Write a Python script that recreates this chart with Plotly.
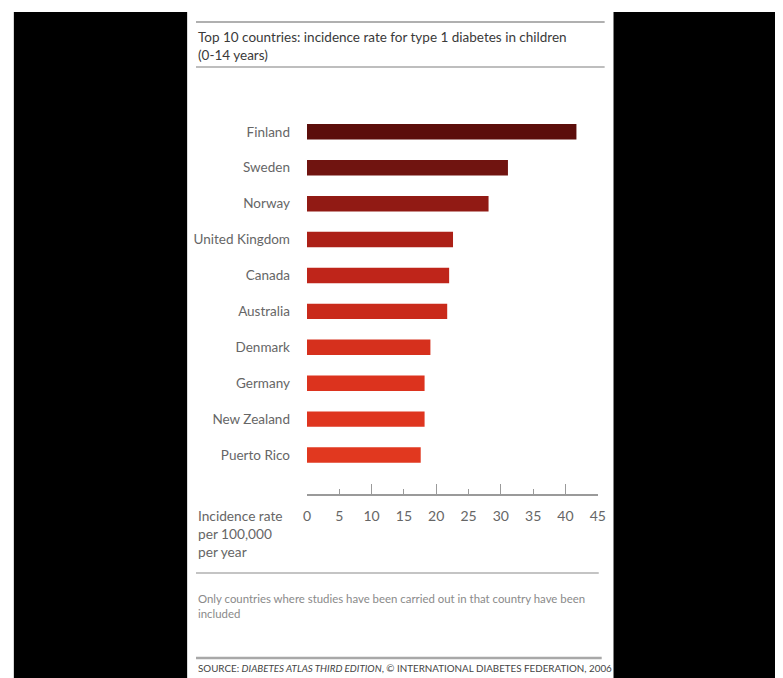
import plotly.graph_objects as go

countries = ["Finland", "Sweden", "Norway", "United Kingdom", "Canada",
             "Australia", "Denmark", "Germany", "New Zealand", "Puerto Rico"]
rates = [41.7, 31.1, 28.1, 22.6, 22.0, 21.7, 19.1, 18.2, 18.2, 17.6]
bar_colors = ["#5c0e0b", "#701410", "#911a14", "#ac2017", "#bf251a",
              "#c92a1b", "#d6301d", "#dc331e", "#df351f", "#e1381f"]
tick_vals = [0, 5, 10, 15, 20, 25, 30, 35, 40, 45]
major_ticks = [10, 20, 30, 40]
minor_ticks = [5, 15, 25, 35, 45]

W, H = 783, 678
FONT = "Lato, Roboto, sans-serif"

def px(x):
    return x / W

def py(y):
    return 1 - y / H

fig = go.Figure()
fig.add_trace(go.Bar(
    x=rates, y=countries, orientation="h",
    marker=dict(color=bar_colors, line=dict(width=0)),
    width=0.43, xaxis="x", yaxis="y", hoverinfo="x+y",
))
# invisible helper trace to carry the labelled axis
fig.add_trace(go.Scatter(x=[0], y=[countries[0]], xaxis="x2", yaxis="y",
                         mode="markers", marker=dict(opacity=0),
                         showlegend=False, hoverinfo="skip"))

xr = [0, 45]
dom_x = [px(307.7), px(603)]
fig.update_layout(
    width=W, height=H,
    margin=dict(l=0, r=0, t=0, b=0),
    paper_bgcolor="white", plot_bgcolor="rgba(0,0,0,0)",
    showlegend=False,
    xaxis=dict(domain=dom_x, range=xr, showgrid=False, zeroline=False,
               showline=True, linecolor="#9a9a9a", linewidth=1.5,
               tickmode="array", tickvals=major_ticks, ticks="inside",
               ticklen=10, tickwidth=1.2, tickcolor="#9a9a9a",
               showticklabels=False,
               minor=dict(tickmode="array", tickvals=minor_ticks,
                          ticks="inside", ticklen=5, tickwidth=1.2,
                          tickcolor="#9a9a9a", showgrid=False)),
    xaxis2=dict(domain=dom_x, range=xr, overlaying="x", anchor="y",
                side="bottom", showgrid=False, zeroline=False,
                showline=False, tickmode="array", tickvals=tick_vals,
                ticks="", ticklabelstandoff=12,
                tickfont=dict(family=FONT, size=14, color="#666666")),
    yaxis=dict(domain=[py(494), py(110.3)], type="category",
               categoryorder="array", categoryarray=countries,
               range=[10.086, -0.6], showgrid=False, zeroline=False,
               showline=False, ticks="", ticklabelstandoff=16,
               tickfont=dict(family=FONT, size=13.5, color="#666666")),
    font=dict(family=FONT),
)

shapes = []
# black side areas
shapes.append(dict(type="rect", xref="paper", yref="paper", x0=px(10), x1=px(186),
                   y0=0, y1=py(12), fillcolor="black", line=dict(width=0), layer="below"))
shapes.append(dict(type="rect", xref="paper", yref="paper", x0=px(619), x1=1,
                   y0=0, y1=py(12), fillcolor="black", line=dict(width=0), layer="below"))
# horizontal rules
for (y, x0, x1, w, c) in [(22, 195, 610, 2, "#b0b0b0"), (67, 195, 610, 1.5, "#a8a8a8"),
                          (573, 195, 604, 1.5, "#b0b0b0"), (658, 195, 607, 2.5, "#a8a8a8")]:
    shapes.append(dict(type="line", xref="paper", yref="paper", x0=px(x0), x1=px(x1),
                       y0=py(y), y1=py(y), line=dict(color=c, width=w)))
fig.update_layout(shapes=shapes)

ann = []
ann.append(dict(text="Top 10 countries: incidence rate for type 1 diabetes in children<br>(0-14 years)",
                xref="paper", yref="paper", x=px(195), y=py(27), xanchor="left", yanchor="top",
                align="left", showarrow=False,
                font=dict(family=FONT, size=13.5, color="#3a3a3a")))
ann.append(dict(text="Incidence rate<br>per 100,000<br>per year",
                xref="paper", yref="paper", x=px(195), y=py(505), xanchor="left", yanchor="top",
                align="left", showarrow=False,
                font=dict(family=FONT, size=13.7, color="#666666")))
ann.append(dict(text="Only countries where studies have been carried out in that country have been<br>included",
                xref="paper", yref="paper", x=px(195), y=py(590), xanchor="left", yanchor="top",
                align="left", showarrow=False,
                font=dict(family=FONT, size=11.4, color="#8a8a8a")))
ann.append(dict(text="SOURCE: <i>DIABETES ATLAS THIRD EDITION</i>, © INTERNATIONAL DIABETES FEDERATION, 2006",
                xref="paper", yref="paper", x=px(195), y=py(660), xanchor="left", yanchor="top",
                align="left", showarrow=False,
                font=dict(family=FONT, size=9.8, color="#444444")))
fig.update_layout(annotations=ann)

fig.write_html("out.html")
